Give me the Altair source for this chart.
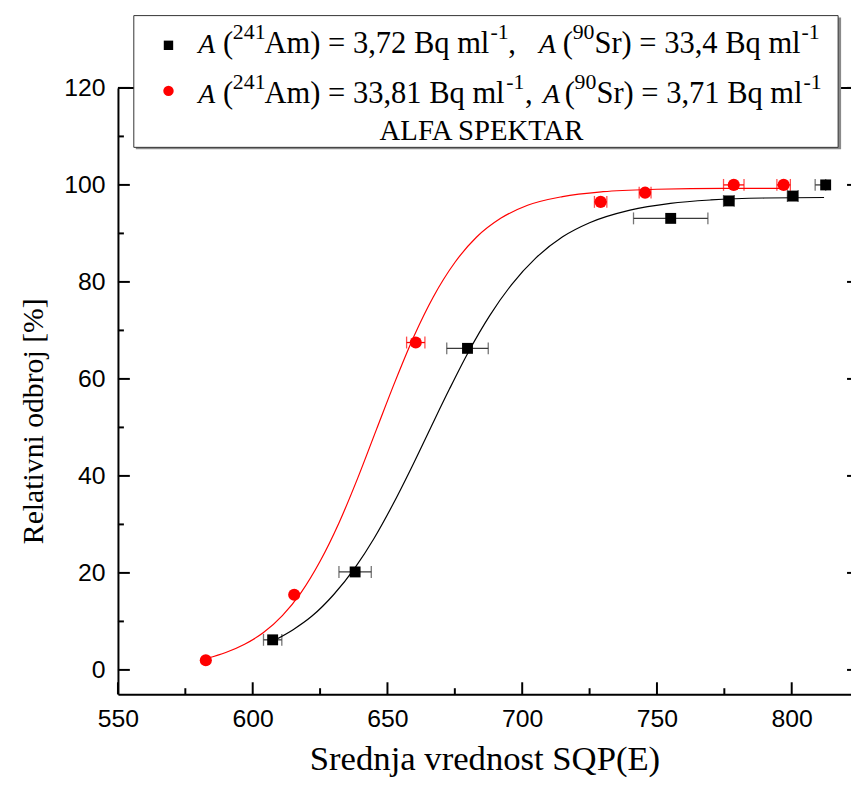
import altair as alt
import pandas as pd

# ---------------- data ----------------
black_x = [607.4, 638.0, 679.7, 755.1, 776.7, 800.4, 812.6]
black_y = [6.2, 20.2, 66.3, 93.1, 96.7, 97.7, 100.0]
black_xlo = [604.0, 632.0, 672.0, 741.3, 774.7, 798.4, 808.7]
black_xhi = [610.8, 644.0, 687.4, 768.9, 778.7, 802.4, 812.6]

red_x = [582.6, 615.4, 660.5, 729.1, 745.6, 778.5, 797.0]
red_y = [2.0, 15.5, 67.5, 96.5, 98.4, 100.0, 100.0]
red_xlo = [582.6, 615.4, 657.1, 726.8, 743.4, 774.7, 794.5]
red_xhi = [582.6, 615.4, 663.9, 731.4, 747.8, 782.3, 799.5]

# fitted curves, points
black_fit_x = [608, 615, 622, 630, 638, 645, 652, 659, 666, 673, 680, 688, 696,
               705, 715, 725, 740, 755, 770, 790, 812]
black_fit_y = [6.1, 8.3, 11.1, 15.5, 21.1, 27.1, 34.1, 41.8, 49.9, 57.9, 65.5,
               73.1, 79.4, 84.9, 89.3, 92.2, 94.8, 96.2, 96.9, 97.3, 97.4]
red_fit_x = [583, 590, 597, 604, 611, 618, 625, 632, 639, 646, 653, 660, 667,
             675, 683, 692, 702, 715, 730, 750, 775, 797]
red_fit_y = [2.4, 3.6, 5.3, 7.7, 11.2, 16.0, 22.4, 30.3, 39.6, 49.7, 59.7, 69.0,
             76.9, 84.0, 89.2, 93.1, 95.8, 97.6, 98.6, 99.1, 99.3, 99.3]

x_major = [550, 600, 650, 700, 750, 800]
x_minor = [575, 625, 675, 725, 775]
y_major = [0, 20, 40, 60, 80, 100, 120]
y_minor = [10, 30, 50, 70, 90, 110]

legend_title = "ALFA SPEKTAR"
x_title = "Srednja vrednost SQP(E)"
y_title = "Relativni odbroj [%]"

# legend text segments: (text, kind)  kind: i = italic A, n = normal, s = superscript
legend_line1 = [("A", "i"), ("(", "n"), ("241", "s"), ("Am) = 3,72 Bq ml", "n"), ("-1", "s"),
                (",", "n"), ("A", "i"), ("(", "n"), ("90", "s"), ("Sr) = 33,4 Bq ml", "n"), ("-1", "s")]
legend_line2 = [("A", "i"), ("(", "n"), ("241", "s"), ("Am) = 33,81 Bq ml", "n"), ("-1", "s"),
                (",", "n"), ("A", "i"), ("(", "n"), ("90", "s"), ("Sr) = 3,71 Bq ml", "n"), ("-1", "s")]

# ---------------- layout (pixels, plot coordinates) ----------------
W, H = 740, 612
line1_x = [81, 106, 116, 148, 376, 394, 425, 449, 459, 481, 690]
line2_x = [81, 106, 116, 148, 392, 411, 429, 451, 461, 483, 692]
line1_base, line2_base = -35, 15
sup_shift = -14
FS, SFS, AFS = 30.8, 22, 28
SERIF = "Liberation Serif"
SANS = "Liberation Sans"

one = pd.DataFrame({"k": [0]})

xscale = alt.Scale(domain=[550, 822], nice=False, zero=False)
yscale = alt.Scale(domain=[-5, 120], nice=False, zero=False)

x_axis = alt.Axis(values=x_major, ticks=False, grid=False, domainColor="black", domainWidth=2,
                  labelFont=SANS, labelFontSize=25, labelColor="black", labelPadding=13,
                  labelFlush=False, labelOverlap=False,
                  title=x_title, titleFont=SERIF, titleFontSize=35, titleFontWeight="normal",
                  titleColor="black", titleBaseline="alphabetic", titleY=76)
y_axis = alt.Axis(values=y_major, ticks=False, grid=False, domainColor="black", domainWidth=2,
                  labelFont=SANS, labelFontSize=25, labelColor="black", labelPadding=13,
                  labelFlush=False, labelOverlap=False,
                  title=y_title, titleFont=SERIF, titleFontSize=30, titleFontWeight="normal",
                  titleColor="black", titleBaseline="alphabetic", titleX=-76, titleY=336,
                  titleAngle=270)


def X(field="x"):
    return alt.X(f"{field}:Q", scale=xscale, axis=x_axis)


def Y(field="y"):
    return alt.Y(f"{field}:Q", scale=yscale, axis=y_axis)


layers = []

# ticks (inward)
dxmaj = pd.DataFrame({"x": x_major})
dxmin = pd.DataFrame({"x": x_minor})
dymaj = pd.DataFrame({"y": y_major})
dymin = pd.DataFrame({"y": y_minor})
layers.append(alt.Chart(dxmaj).mark_rule(color="black", strokeWidth=2).encode(
    x=X(), y=alt.value(H), y2=alt.value(H - 12)))
layers.append(alt.Chart(dxmin).mark_rule(color="black", strokeWidth=2).encode(
    x=X(), y=alt.value(H), y2=alt.value(H - 6)))
layers.append(alt.Chart(dymaj).mark_rule(color="black", strokeWidth=2).encode(
    y=Y(), x=alt.value(0), x2=alt.value(12)))
layers.append(alt.Chart(dymin).mark_rule(color="black", strokeWidth=2).encode(
    y=Y(), x=alt.value(0), x2=alt.value(6)))
layers.append(alt.Chart(dymaj).mark_rule(color="black", strokeWidth=2).encode(
    y=Y(), x=alt.value(W - 4), x2=alt.value(W)))
# top frame
layers.append(alt.Chart(one).mark_rule(color="black", strokeWidth=2).encode(
    x=alt.value(0), x2=alt.value(W), y=alt.value(0)))

# data frames
dfb = pd.DataFrame({"x": black_x, "y": black_y, "xlo": black_xlo, "xhi": black_xhi})
dfr = pd.DataFrame({"x": red_x, "y": red_y, "xlo": red_xlo, "xhi": red_xhi})
dfr_err = dfr[dfr["xhi"] > dfr["xlo"]]
dbf = pd.DataFrame({"x": black_fit_x, "y": black_fit_y})
drf = pd.DataFrame({"x": red_fit_x, "y": red_fit_y})

# error bars
for df, col in ((dfb, "#3a3a3a"), (dfr_err, "#ff0000")):
    layers.append(alt.Chart(df).mark_rule(color=col, strokeWidth=1.3).encode(
        x=X("xlo"), x2="xhi:Q", y=Y()))
    layers.append(alt.Chart(df).mark_tick(color=col, thickness=1.3, size=12, orient="vertical").encode(
        x=X("xlo"), y=Y()))
    layers.append(alt.Chart(df).mark_tick(color=col, thickness=1.3, size=12, orient="vertical").encode(
        x=X("xhi"), y=Y()))

# fitted curves
layers.append(alt.Chart(dbf).mark_line(color="black", strokeWidth=1.2, interpolate="monotone").encode(
    x=X(), y=Y()))
layers.append(alt.Chart(drf).mark_line(color="#ff0000", strokeWidth=1.2, interpolate="monotone").encode(
    x=X(), y=Y()))

# points
layers.append(alt.Chart(dfb).mark_square(color="black", size=121, opacity=1).encode(x=X(), y=Y()))
layers.append(alt.Chart(dfr).mark_circle(color="#ff0000", size=150, opacity=1).encode(x=X(), y=Y()))

# legend box
layers.append(alt.Chart(one).mark_rect(color="#8a8a8a").encode(
    x=alt.value(18), x2=alt.value(730), y=alt.value(-71), y2=alt.value(62)))
layers.append(alt.Chart(one).mark_rect(fill="white", stroke="#333333", strokeWidth=1).encode(
    x=alt.value(16), x2=alt.value(727), y=alt.value(-73), y2=alt.value(60)))
layers.append(alt.Chart(one).mark_square(color="black", size=90, opacity=1).encode(
    x=alt.value(51), y=alt.value(-43)))
layers.append(alt.Chart(one).mark_circle(color="#ff0000", size=110, opacity=1).encode(
    x=alt.value(51), y=alt.value(3)))

for segs, xs, base in ((legend_line1, line1_x, line1_base), (legend_line2, line2_x, line2_base)):
    for (txt, kind), px in zip(segs, xs):
        size = SFS if kind == "s" else (AFS if kind == "i" else FS)
        layers.append(alt.Chart(one).mark_text(
            align="left", baseline="alphabetic", font=SERIF, fontSize=size,
            fontStyle="italic" if kind == "i" else "normal",
            color="black").encode(
            x=alt.value(px), y=alt.value(base + (sup_shift if kind == "s" else 0)),
            text=alt.value(txt)))

layers.append(alt.Chart(one).mark_text(
    align="center", baseline="alphabetic", font=SERIF, fontSize=29, color="black").encode(
    x=alt.value(367), y=alt.value(53), text=alt.value(legend_title)))

chart = alt.layer(*layers).properties(
    width=W, height=H,
    padding={"left": 111, "top": 77, "right": 0, "bottom": 84},
    autosize=alt.AutoSizeParams(type="none"),
).configure_view(stroke=None).configure(background="white")

chart.save("out.html", embed_options={"renderer": "svg", "actions": False})
